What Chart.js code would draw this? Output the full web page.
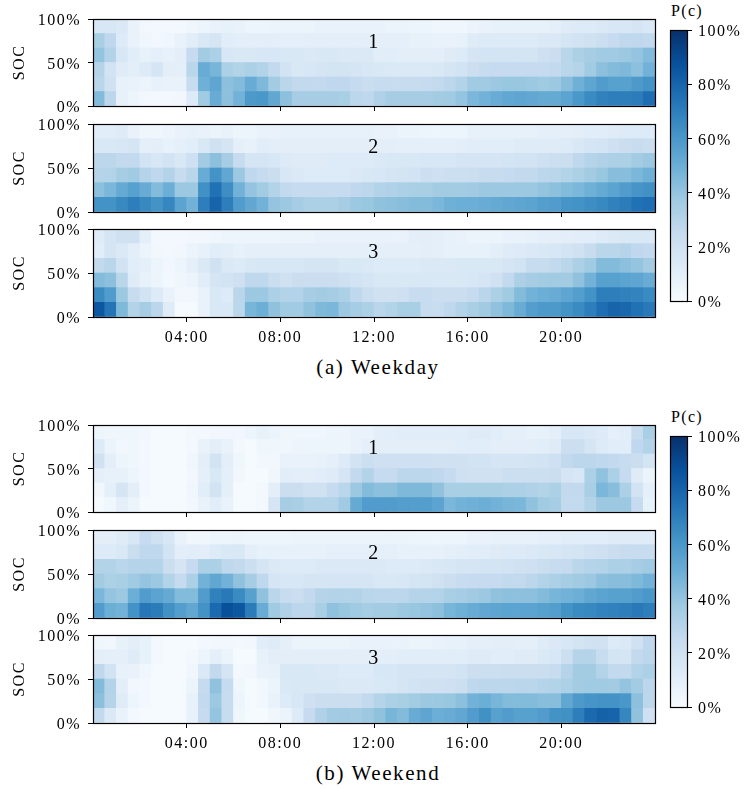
<!DOCTYPE html>
<html><head><meta charset="utf-8">
<script src="https://cdn.jsdelivr.net/npm/chart.js@4"></script>
<style>
html,body{margin:0;padding:0;background:#fff;width:746px;height:789px;overflow:hidden}
canvas{position:absolute}
.cap{position:absolute;font-family:"Liberation Serif",serif;color:#000;white-space:nowrap;transform:translate(-50%,-50%)}
</style></head><body>
<div class="cap" style="left:378px;top:367px;font-size:21px;letter-spacing:1.6px">(a) Weekday</div>
<div class="cap" style="left:378px;top:773px;font-size:21px;letter-spacing:1.6px">(b) Weekend</div>
<div class="cap" style="left:687px;top:11px;font-size:16px;letter-spacing:1.3px">P(c)</div>
<div class="cap" style="left:687px;top:417px;font-size:16px;letter-spacing:1.3px">P(c)</div>
<script>
const hourTicks=[4,8,12,16,20];
const socTicks=[0,50,100];
const barTicks=[0,20,40,60,80,100];
const socBins=6;
const slotsPerHour=2;
// each panel: rows from top SOC bin down to lowest, 48 half-hour columns, P(c) in %
const weekday1=[
[16,16,14,7,3,2,2,2, 4,5,7,8,7,5,5,6, 6,6,6,7,7,7,7,7, 7,6,6,5,5,4,4,4, 6,7,8,8,8,8,8,9, 12,13,13,14,16,16,17,15],
[34,27,13,7,4,3,4,7, 11,15,17,11,10,10,10,10, 9,9,10,10,10,10,10,10, 9,9,9,8,8,7,7,8, 12,13,13,13,13,13,14,14, 17,19,20,22,25,27,27,26],
[40,31,16,11,8,9,8,10, 25,36,33,16,15,15,16,16, 15,15,14,15,15,14,14,14, 11,11,10,10,10,10,12,13, 17,18,18,18,18,18,21,23, 29,33,35,37,37,38,40,44],
[30,19,12,10,13,17,10,9, 29,51,47,33,31,33,31,26, 19,15,16,17,18,18,17,16, 15,14,14,14,14,15,17,19, 22,24,25,25,25,25,25,26, 29,30,37,42,44,45,42,48],
[29,20,8,7,6,8,7,7, 24,49,54,42,44,51,45,36, 29,26,26,26,27,27,25,23, 24,24,24,24,25,26,28,31, 37,37,38,39,39,38,37,38, 43,49,54,58,56,56,59,62],
[44,28,8,5,3,2,2,3, 13,37,51,42,48,59,60,53, 42,35,35,35,35,34,28,27, 32,35,35,35,35,36,37,40, 46,48,51,53,54,53,52,52, 55,60,65,69,70,70,71,76]];
const weekday2=[
[11,11,12,7,4,4,5,7, 8,7,6,7,5,5,7,7, 8,8,8,8,8,8,8,8, 7,7,6,6,5,5,5,5, 8,8,8,8,8,8,9,9, 9,10,11,11,12,13,13,13],
[15,15,16,17,9,10,8,9, 11,15,20,17,9,8,11,10, 10,10,10,10,10,10,10,10, 10,10,9,9,9,9,9,10, 11,11,11,11,12,12,12,12, 13,15,17,18,21,23,24,23],
[28,28,26,26,19,16,19,15, 21,36,42,35,24,17,17,16, 13,12,12,12,13,13,13,13, 14,15,15,15,16,16,16,17, 17,17,17,18,19,19,21,22, 23,27,30,32,33,33,36,38],
[30,31,35,37,30,27,31,24, 29,51,62,53,38,27,25,23, 16,14,13,13,13,13,14,15, 16,17,18,19,22,21,22,22, 23,24,24,25,26,26,28,29, 31,33,36,39,43,43,46,49],
[42,46,52,56,51,44,50,38, 38,63,75,64,48,40,36,31, 26,25,25,25,25,25,27,28, 31,32,33,34,34,36,36,36, 37,38,38,38,38,38,40,42, 44,46,49,52,55,58,61,63],
[62,62,66,70,66,62,67,55, 48,70,80,70,58,53,48,40, 38,35,33,33,33,35,38,39, 41,42,43,44,44,46,49,50, 50,51,52,53,54,55,57,58, 61,62,64,66,69,71,75,76]];
const weekday3=[
[12,17,20,20,9,2,2,2, 3,3,4,5,5,5,5,5, 6,6,6,7,7,7,7,7, 7,7,7,10,10,9,8,7, 6,6,6,7,7,8,9,9, 10,11,11,13,14,15,15,15],
[11,17,14,10,6,3,2,3, 6,8,11,10,8,9,9,9, 9,9,9,9,9,9,9,9, 9,9,9,9,10,9,8,8, 8,8,10,12,13,14,15,16, 18,20,24,29,29,30,27,26],
[26,29,19,11,9,5,3,5, 9,14,20,14,13,15,16,16, 16,16,17,17,17,15,15,14, 13,13,13,13,14,14,14,15, 15,15,15,17,19,24,24,26, 29,33,37,44,44,42,40,36],
[44,42,29,12,8,5,2,4, 6,11,17,19,21,27,27,23, 20,23,23,23,23,21,19,17, 15,15,15,15,15,15,15,15, 16,17,20,26,33,35,36,37, 36,41,48,56,56,55,54,51],
[65,58,38,24,19,13,7,3, 3,7,15,13,29,38,38,33, 31,31,35,36,35,33,27,23, 20,20,21,24,24,23,23,23, 25,29,33,37,44,48,50,51, 54,57,62,70,70,69,68,65],
[85,74,45,31,35,28,12,1, 1,7,15,15,28,47,50,41, 37,37,41,45,46,38,35,33, 29,31,34,34,24,24,27,31, 34,37,41,45,51,57,59,59, 62,65,70,76,80,79,75,72]];
const weekend1=[
[5,4,4,4,3,1,1,1, 2,2,3,3,3,5,8,6, 4,4,4,4,5,5,7,7, 10,10,11,11,11,11,11,11, 12,12,11,9,9,8,8,10, 16,16,14,13,9,11,24,34],
[13,6,3,4,2,1,1,1, 2,7,10,7,2,1,4,4, 4,5,5,5,5,5,7,9, 10,10,10,10,10,10,10,11, 11,11,10,10,10,10,11,12, 22,22,17,13,11,11,27,31],
[20,10,5,4,2,1,1,1, 4,10,19,10,4,1,3,3, 7,7,7,8,9,13,19,22, 21,21,21,21,21,20,20,20, 19,19,17,17,17,18,19,21, 26,28,28,27,26,24,23,18],
[9,8,8,5,2,1,1,1, 3,9,15,9,3,1,1,4, 11,10,10,11,12,17,26,31, 25,25,28,28,28,27,25,21, 20,20,20,22,22,22,22,23, 17,16,33,41,33,25,12,6],
[3,9,17,10,2,1,1,1, 4,11,19,9,1,1,2,10, 23,23,20,20,25,29,38,44, 42,42,45,45,45,41,34,34, 34,34,34,33,33,32,31,33, 26,26,34,46,43,33,19,9],
[1,4,9,6,1,1,1,1, 3,7,11,7,1,1,2,17, 35,34,31,31,31,37,52,58, 58,58,57,57,57,55,46,48, 49,50,48,47,46,41,37,35, 26,26,31,38,38,38,25,8]];
const weekend2=[
[10,10,12,16,25,20,16,7, 4,4,5,5,6,5,5,5, 5,6,6,6,6,6,6,6, 6,6,6,5,5,5,5,5, 7,7,8,8,8,8,9,9, 11,11,11,11,12,12,12,12],
[13,13,15,23,27,27,19,10, 11,10,13,15,15,10,8,8, 8,8,8,8,9,9,9,9, 9,9,8,8,8,8,9,10, 11,11,12,13,13,14,15,16, 17,18,20,21,23,24,24,24],
[31,31,29,30,30,30,23,17, 25,33,33,27,26,22,17,14, 13,13,13,14,14,14,14,14, 14,13,13,13,14,15,16,17, 17,18,18,19,20,21,23,24, 25,29,30,31,33,33,35,37],
[36,33,34,37,40,38,31,25, 33,48,53,48,41,35,27,17, 16,16,17,17,17,17,17,17, 15,15,16,17,18,20,22,24, 25,25,25,26,26,28,31,33, 35,37,38,42,43,43,45,48],
[46,40,38,50,58,55,52,44, 44,58,69,72,65,56,41,29, 24,23,26,30,31,31,31,29, 28,28,28,30,30,31,34,35, 37,38,41,42,42,42,44,47, 48,50,53,55,56,56,58,60],
[58,50,48,62,73,71,63,57, 53,62,78,88,85,71,51,37, 32,28,28,34,41,39,37,35, 36,36,38,39,40,42,47,49, 51,53,54,55,55,55,56,57, 62,65,66,68,69,70,72,70]];
const weekend3=[
[4,3,8,10,8,2,1,1, 1,2,3,3,2,3,11,12, 9,6,6,6,6,6,7,7, 7,7,7,6,6,7,8,8, 9,9,10,10,9,9,12,14, 16,18,20,20,13,14,20,27],
[10,9,9,12,8,2,1,1, 2,5,9,6,1,1,8,10, 10,10,10,10,10,10,10,10, 10,10,11,11,11,11,11,11, 12,12,11,11,12,12,14,16, 22,30,30,24,18,17,26,28],
[27,19,8,7,4,1,1,1, 4,14,26,17,2,3,7,8, 15,15,15,14,14,13,13,13, 16,16,17,17,17,17,17,19, 22,22,22,23,23,23,23,24, 30,36,36,31,26,26,31,33],
[44,31,10,3,2,1,1,1, 6,25,41,25,4,1,3,6, 14,15,15,15,15,14,14,14, 15,16,17,19,20,20,21,22, 27,28,28,28,29,29,30,31, 33,36,37,37,36,40,36,28],
[42,30,12,5,2,1,1,1, 8,26,38,24,5,1,3,7, 13,16,21,23,23,23,23,26, 30,33,34,36,38,38,39,42, 48,50,47,44,44,44,43,43, 53,59,61,62,62,60,42,28],
[26,14,7,2,1,1,1,1, 8,25,40,24,4,1,1,4, 6,13,25,32,36,37,36,38, 41,47,44,51,54,50,51,53, 58,63,56,58,56,56,58,62, 63,70,78,81,80,67,41,21]];

const panels=[
 {rows:weekday1,label:'1',top:19,bottom:106,labelled:false},
 {rows:weekday2,label:'2',top:124,bottom:212,labelled:false},
 {rows:weekday3,label:'3',top:229,bottom:317,labelled:true},
 {rows:weekend1,label:'1',top:425,bottom:512,labelled:false},
 {rows:weekend2,label:'2',top:530,bottom:618,labelled:false},
 {rows:weekend3,label:'3',top:635,bottom:723,labelled:true}
];
const colourBars=[{top:30,bottom:301},{top:436,bottom:707}];

const BLUES=[[247,251,255],[222,235,247],[198,219,239],[158,202,225],[107,174,214],[66,146,198],[33,113,181],[8,81,156],[8,48,107]];
function blues(p){
  const t=Math.max(0,Math.min(1,p/100))*(BLUES.length-1);
  const i=Math.min(BLUES.length-2,Math.floor(t)),f=t-i;
  const c=BLUES[i].map((v,k)=>Math.round(v+(BLUES[i+1][k]-v)*f));
  return 'rgb('+c.join(',')+')';
}
const FONT='"Liberation Serif",serif';
const TRACK=1.5;
const trackPlugin={id:'track',beforeDraw(c){c.ctx.letterSpacing=TRACK+'px';}};
const framePlugin={id:'frame',afterDraw(c){
  const a=c.chartArea,x=c.ctx;x.save();x.strokeStyle='#000';x.lineWidth=1.2;
  x.strokeRect(Math.round(a.left)+.5,Math.round(a.top)+.5,Math.round(a.right-a.left),Math.round(a.bottom-a.top));x.restore();
}};
const numberPlugin={id:'panelNumber',afterDatasetsDraw(c,_,o){
  const x=c.ctx;x.save();x.fillStyle='#000';x.font='20px '+FONT;x.textAlign='center';x.textBaseline='middle';
  x.fillText(o.text,c.scales.x.getPixelForValue(12),c.scales.y.getPixelForValue(75)+1.5);x.restore();
}};
const commonTicks={color:'#000',font:{family:FONT,size:16}};
const hourLabel=v=>String(v).padStart(2,'0')+':00';
const slotHours=panels[0].rows[0].map((_,i)=>(i+.5)/slotsPerHour);
const noPad=s=>{s.paddingTop=0;s.paddingBottom=0;s.paddingLeft=0;s.paddingRight=0;};

panels.forEach((p,pi)=>{
  p.rows.forEach((r,i)=>{if(r.length!==48)console.error('bad row',pi,i,r.length);});
  const c=document.createElement('canvas');
  const xH=p.labelled?36:9;
  const h=p.bottom-p.top+10+xH;
  c.style.left='0px';c.style.top=(p.top-10)+'px';
  c.width=665;c.height=h;document.body.appendChild(c);
  const datasets=p.rows.slice().reverse().map(row=>({
    data:row.map((v,i)=>({x:slotHours[i],y:100/socBins,p:v})),
    backgroundColor:ctx=>blues(ctx.raw?ctx.raw.p:0),
    borderWidth:0,categoryPercentage:1,barPercentage:1
  }));
  new Chart(c,{type:'bar',data:{datasets},
    plugins:[trackPlugin,numberPlugin,framePlugin],
    options:{responsive:false,animation:false,events:[],
      layout:{padding:{top:10,right:10,bottom:0,left:0}},
      plugins:{legend:{display:false},tooltip:{enabled:false},panelNumber:{text:p.label}},
      scales:{
        x:{type:'linear',stacked:true,offset:false,min:0,max:24,
          grid:{display:true,offset:false,drawOnChartArea:false,drawTicks:true,tickLength:5,tickColor:'#000',tickWidth:1},
          border:{display:true,color:'#000',width:1},
          afterBuildTicks(s){s.ticks=hourTicks.map(v=>({value:v}));},
          ticks:{...commonTicks,display:p.labelled,autoSkip:false,maxRotation:0,padding:6,callback:hourLabel},
          afterFit(s){s.height=xH;noPad(s);}},
        y:{type:'linear',stacked:true,min:0,max:100,
          grid:{display:true,drawOnChartArea:false,drawTicks:true,tickLength:5,tickColor:'#000',tickWidth:1},
          border:{display:true,color:'#000',width:1},
          afterBuildTicks(s){s.ticks=socTicks.map(v=>({value:v}));},
          title:{display:true,text:'SOC',color:'#000',font:{family:FONT,size:16},padding:{top:10,bottom:0}},
          ticks:{...commonTicks,padding:7,labelOffset:2,callback:v=>v+'%'},
          afterFit(s){s.width=93;noPad(s);}}
      }}});
});

colourBars.forEach(b=>{
  const c=document.createElement('canvas');
  c.style.left='660px';c.style.top=(b.top-10)+'px';
  c.width=86;c.height=b.bottom-b.top+20;document.body.appendChild(c);
  new Chart(c,{type:'bar',data:{labels:['P(c)'],datasets:[{data:[[0,100]],borderWidth:0,categoryPercentage:1,barPercentage:1,
      backgroundColor(ctx){
        const a=ctx.chart.chartArea;if(!a)return '#fff';
        const g=ctx.chart.ctx.createLinearGradient(0,a.bottom,0,a.top);
        BLUES.forEach((s,i)=>g.addColorStop(i/(BLUES.length-1),'rgb('+s.join(',')+')'));
        return g;
      }}]},
    plugins:[trackPlugin,framePlugin],
    options:{responsive:false,animation:false,events:[],
      layout:{padding:{top:10,right:0,bottom:10,left:10}},
      plugins:{legend:{display:false},tooltip:{enabled:false}},
      scales:{
        x:{display:false,offset:true},
        y:{position:'right',min:0,max:100,
          grid:{display:true,drawOnChartArea:false,drawTicks:true,tickLength:5,tickColor:'#000',tickWidth:1},
          border:{display:true,color:'#000',width:1},
          afterBuildTicks(s){s.ticks=barTicks.map(v=>({value:v}));},
          ticks:{...commonTicks,padding:6,labelOffset:2,callback:v=>v+'%'},
          afterFit(s){s.width=59;noPad(s);}}
      }}});
});
</script></body></html>
